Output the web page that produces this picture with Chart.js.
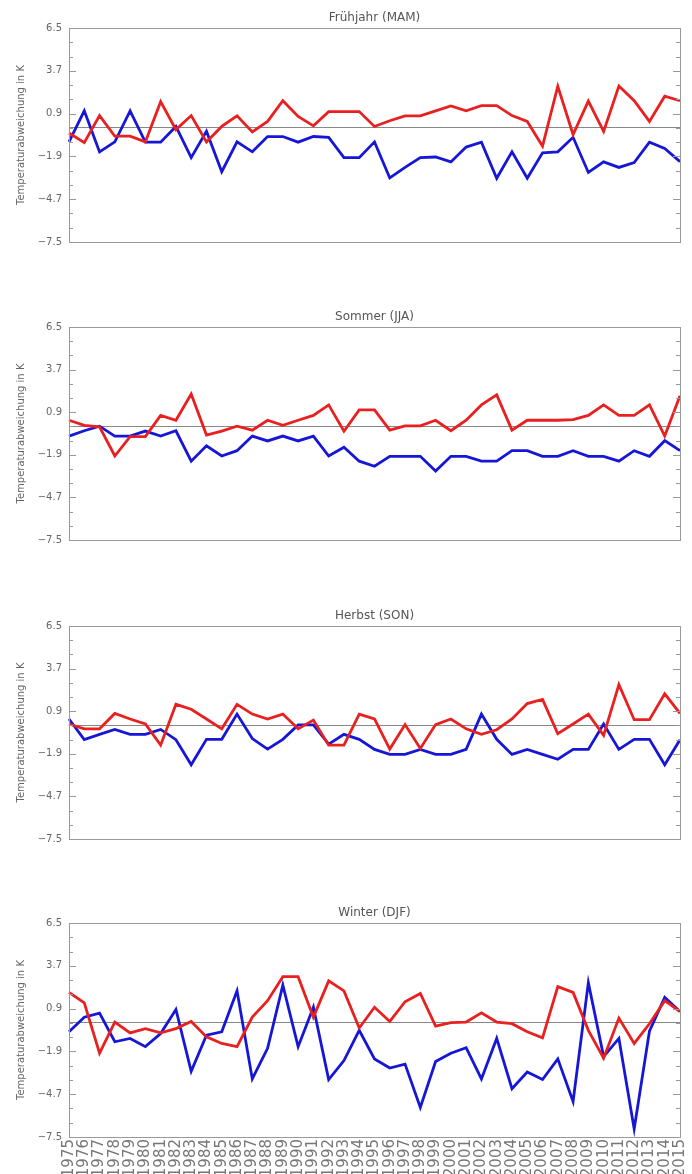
<!DOCTYPE html>
<html>
<head>
<meta charset="utf-8">
<script src="https://cdn.jsdelivr.net/npm/chart.js@4.4.1/dist/chart.umd.min.js"></script>
<style>
    body { margin: 0; background: #fff; width: 692px; height: 1174px; overflow: hidden; position: relative; }
    .panel { position: absolute; left: 0; width: 692px; }
</style>
</head>
<body>
<div class="panel" style="top:0px;height:255px"><canvas id="c0"></canvas></div>
<div class="panel" style="top:299px;height:254px"><canvas id="c1"></canvas></div>
<div class="panel" style="top:598px;height:254px"><canvas id="c2"></canvas></div>
<div class="panel" style="top:895px;height:279px"><canvas id="c3"></canvas></div>
<script>
// Seasonal temperature anomalies 1975-2015 (red and blue series)
const years = ['1975','1976','1977','1978','1979','1980','1981','1982','1983','1984',
    '1985','1986','1987','1988','1989','1990','1991','1992','1993','1994',
    '1995','1996','1997','1998','1999','2000','2001','2002','2003','2004',
    '2005','2006','2007','2008','2009','2010','2011','2012','2013','2014','2015'];

const yMajor = [-7.5, -4.7, -1.9, 0.9, 3.7, 6.5];

const titles = ['Frühjahr (MAM)', 'Sommer (JJA)', 'Herbst (SON)', 'Winter (DJF)'];

const springRed = [-0.37, -1.0, 0.77, -0.58, -0.58, -0.95, 1.68, -0.15, 0.77, -0.95,
    0.06, 0.75, -0.3, 0.39, 1.74, 0.71, 0.1, 1.03, 1.03, 1.03,
    0.06, 0.43, 0.75, 0.75, 1.08, 1.4, 1.08, 1.42, 1.42, 0.77,
    0.39, -1.23, 2.69, -0.47, 1.72, -0.26, 2.71, 1.74, 0.39, 2.04, 1.74];
const springBlue = [-0.95, 1.08, -1.61, -0.95, 1.08, -0.97, -0.97, 0.06, -1.98, -0.26,
    -2.9, -0.95, -1.6, -0.6, -0.6, -0.97, -0.6, -0.65, -1.98, -1.98,
    -0.95, -3.31, -2.62, -1.98, -1.94, -2.26, -1.29, -0.97, -3.33, -1.6,
    -3.33, -1.66, -1.6, -0.65, -2.95, -2.26, -2.62, -2.3, -0.97, -1.38, -2.24];

const summerRed = [0.37, 0.04, -0.06, -1.98, -0.7, -0.7, 0.69, 0.37, 2.09, -0.6,
    -0.34, -0.02, -0.28, 0.37, 0.04, 0.37, 0.69, 1.38, -0.35, 1.05,
    1.05, -0.28, 0, 0, 0.37, -0.32, 0.37, 1.38, 2.04, -0.28,
    0.37, 0.37, 0.37, 0.41, 0.69, 1.38, 0.69, 0.69, 1.38, -0.67, 1.98];
const summerBlue = [-0.67, -0.32, -0.02, -0.67, -0.67, -0.34, -0.67, -0.32, -2.32, -1.31,
    -1.98, -1.63, -0.67, -0.99, -0.67, -0.99, -0.67, -1.98, -1.4, -2.32,
    -2.65, -2.0, -2.0, -2.0, -2.97, -2.0, -2.0, -2.32, -2.32, -1.63,
    -1.63, -2.0, -2.0, -1.63, -2.0, -2.0, -2.32, -1.63, -2.0, -0.97, -1.63];

const autumnRed = [0.06, -0.26, -0.26, 0.75, 0.39, 0.06, -1.33, 1.35, 1.03, 0.39,
    -0.26, 1.35, 0.71, 0.39, 0.71, -0.26, 0.32, -1.33, -1.33, 0.71,
    0.39, -1.59, 0.02, -1.55, 0.02, 0.39, -0.26, -0.62, -0.32, 0.39,
    1.4, 1.68, -0.58, 0.06, 0.71, -0.69, 2.65, 0.34, 0.34, 2.04, 0.75];
const autumnBlue = [0.39, -0.97, -0.62, -0.3, -0.62, -0.62, -0.3, -0.97, -2.62, -0.95,
    -0.95, 0.71, -0.9, -1.59, -0.95, 0, 0, -1.27, -0.62, -0.95,
    -1.61, -1.94, -1.94, -1.61, -1.94, -1.94, -1.61, 0.71, -0.95, -1.94,
    -1.61, -1.94, -2.26, -1.61, -1.61, 0.06, -1.61, -0.95, -0.95, -2.62, -0.97];

const winterRed = [1.96, 1.27, -2.02, 0.02, -0.69, -0.41, -0.69, -0.41, 0.06, -0.95,
    -1.38, -1.59, 0.34, 1.42, 2.99, 2.99, 0.34, 2.71, 2.06, -0.37,
    0.99, 0.06, 1.35, 1.89, -0.24, -0.02, 0.02, 0.62, 0.02, -0.09,
    -0.62, -1.01, 2.34, 1.96, -0.52, -2.34, 0.28, -1.38, -0.09, 1.42, 0.71];
const winterBlue = [-0.62, 0.34, 0.6, -1.27, -1.05, -1.59, -0.73, 0.84, -3.2, -0.84,
    -0.62, 2.06, -3.7, -1.7, 2.43, -1.59, 0.99, -3.74, -2.5, -0.52,
    -2.39, -2.99, -2.73, -5.57, -2.56, -2.02, -1.66, -3.7, -1.05, -4.34,
    -3.25, -3.74, -2.39, -5.18, 2.6, -2.24, -1.05, -6.97, -0.58, 1.63, 0.71];

const seasons = [
    [springRed, springBlue],
    [summerRed, summerBlue],
    [autumnRed, autumnBlue],
    [winterRed, winterBlue]
];

Chart.defaults.font.family = "'DejaVu Sans', sans-serif";
Chart.defaults.color = '#666';

function isMajor(v) {
    return yMajor.some(m => Math.abs(m - v) < 1e-6);
}

// zero line, box and inward ticks
const framePlugin = {
    id: 'frame',
    beforeDatasetsDraw(chart) {
        const { ctx, chartArea: a, scales: { y } } = chart;
        const y0 = Math.round(y.getPixelForValue(0)) + 0.5;
        ctx.save();
        ctx.strokeStyle = '#888';
        ctx.lineWidth = 1.2;
        ctx.beginPath();
        ctx.moveTo(a.left, y0);
        ctx.lineTo(a.right, y0);
        ctx.stroke();
        ctx.restore();
    },
    afterDraw(chart, args, opts) {
        const { ctx, chartArea: a, scales: { y } } = chart;
        ctx.save();
        ctx.strokeStyle = '#999';
        ctx.lineWidth = 1;
        ctx.strokeRect(Math.round(a.left) + 0.5, Math.round(a.top) + 0.5,
            Math.round(a.right - a.left), Math.round(a.bottom - a.top));
        ctx.beginPath();
        y.ticks.forEach(t => {
            const py = Math.round(y.getPixelForValue(t.value)) + 0.5;
            const len = isMajor(t.value) ? 7 : 4;
            ctx.moveTo(a.left, py);
            ctx.lineTo(a.left + len, py);
            ctx.moveTo(a.right - len, py);
            ctx.lineTo(a.right, py);
        });
        ctx.stroke();
        // panel title
        ctx.fillStyle = '#555';
        ctx.font = "12px 'DejaVu Sans'";
        ctx.textAlign = 'center';
        ctx.textBaseline = 'alphabetic';
        ctx.fillText(opts.title, (a.left + a.right) / 2, a.top - 7);
        ctx.restore();
    }
};

function makeChart(idx, showYears) {
    const ctx = document.getElementById('c' + idx).getContext('2d');
    const [red, blue] = seasons[idx];
    return new Chart(ctx, {
        type: 'line',
        data: {
            labels: years,
            datasets: [
                {
                    label: 'rot',
                    data: red,
                    borderColor: 'rgb(232, 32, 32)',
                    borderWidth: 2.8,
                    pointRadius: 0,
                    tension: 0
                },
                {
                    label: 'blau',
                    data: blue,
                    borderColor: 'rgb(22, 22, 215)',
                    borderWidth: 2.8,
                    pointRadius: 0,
                    tension: 0
                }
            ]
        },
        options: {
            responsive: true,
            maintainAspectRatio: false,
            animation: false,
            layout: {
                padding: { top: 28, right: 12, left: 0, bottom: showYears ? 0 : 10 }
            },
            plugins: {
                legend: { display: false },
                tooltip: { enabled: false },
                frame: { title: titles[idx] }
            },
            scales: {
                x: {
                    display: showYears,
                    offset: false,
                    grid: { display: false, drawTicks: false },
                    border: { display: false },
                    ticks: {
                        autoSkip: false,
                        minRotation: 90,
                        maxRotation: 90,
                        padding: 2,
                        color: '#777',
                        font: { size: 15 }
                    },
                    afterFit(scale) {
                        if (showYears) {
                            scale.height = 37;
                            scale.paddingLeft = 0;
                            scale.paddingRight = 0;
                        }
                    }
                },
                y: {
                    min: -7.5,
                    max: 6.5,
                    grid: { display: false, drawTicks: false },
                    border: { display: false },
                    afterBuildTicks(scale) {
                        const ticks = [];
                        for (let k = 0; k <= 15; k++) {
                            ticks.push({ value: -7.5 + k * 14 / 15 });
                        }
                        scale.ticks = ticks;
                    },
                    ticks: {
                        autoSkip: false,
                        padding: 7,
                        color: '#666',
                        font: { size: 10 },
                        callback: function(value) {
                            return isMajor(value) ? value.toFixed(1).replace('-', '\u2212') : '';
                        }
                    },
                    title: {
                        display: true,
                        text: 'Temperaturabweichung in K',
                        color: '#666',
                        font: { size: 10 },
                        padding: { top: 15, bottom: 0 }
                    },
                    afterFit(scale) {
                        scale.width = 69;
                    }
                }
            }
        },
        plugins: [framePlugin]
    });
}

makeChart(0, false);
makeChart(1, false);
makeChart(2, false);
makeChart(3, true);
</script>
</body>
</html>
